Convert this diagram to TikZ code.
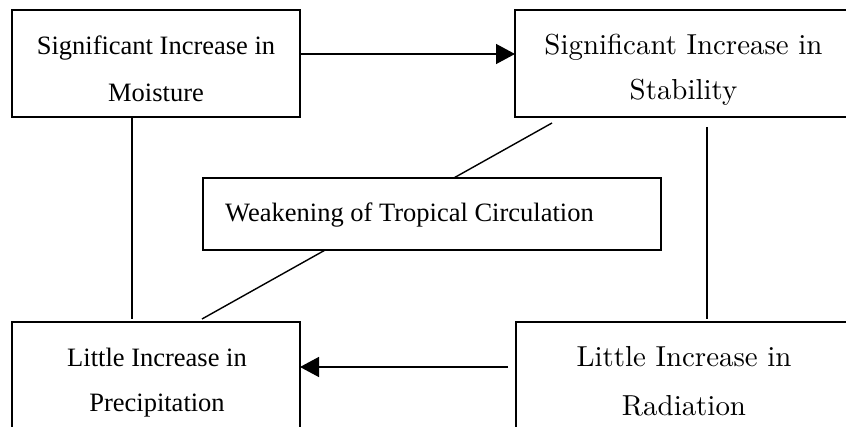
\documentclass[tikz,border=0pt]{standalone}
\usepackage{fontspec}
\newfontfamily\tnr{Liberation Serif}
\newfontfamily\lmten{lmroman10-regular}[Extension=.otf]
\usetikzlibrary{arrows.meta,calc}
\begin{document}
\begin{tikzpicture}[x=1pt,y=-1pt,
  box/.style={draw=black,line width=1.6pt,fill=white,rectangle,inner sep=0pt,outer sep=0pt},
  lt/.style={anchor=base,inner sep=0pt,font=\tnr\fontsize{26.5}{30}\selectfont},
  rt/.style={anchor=base,inner sep=0pt,font=\lmten\fontsize{28.9}{32}\selectfont},
  conn/.style={draw=black,line width=1.4pt},
  arr/.style={conn,-{Triangle[length=19pt,width=20pt]}}]
\useasboundingbox (0,0) rectangle (846,427);
\clip (0,0) rectangle (846,427);
% boxes
\node[box,minimum width=288pt,minimum height=107pt] (moist) at (156,63.5) {};
\node[box,minimum width=337pt,minimum height=107pt] (stab) at (683.5,63.5) {};
\node[box,minimum width=288pt,minimum height=120pt] (prec) at (156,382) {};
\node[box,minimum width=336pt,minimum height=120pt] (rad) at (684,382) {};
% connectors behind the middle box
\draw[conn] ($(stab.south west)+(37,6)$) -- ($(prec.north west)+(190,-3)$);
\draw[conn] ($(moist.south west)+(120,0)$) -- ($(prec.north west)+(120,-3)$);
\draw[conn] ($(stab.south west)+(192,10)$) -- ($(rad.north west)+(191,-3)$);
\draw[arr] ($(moist.north east)+(0,44)$) -- ($(stab.north west)+(0,44)$);
\draw[arr] ($(rad.north west)+(-8,45)$) -- ($(prec.north east)+(0,45)$);
% middle box
\node[box,minimum width=458pt,minimum height=72pt] (weak) at (432,214) {};
% texts
\node[lt] (m1) at (156,55) {Significant Increase in};
\node[lt] (m2) at (156,102) {Moisture};
\node[rt] (s1) at (683.5,55) {Significant Increase in};
\node[rt] (s2) at (683.5,100) {Stability};
\node[lt] (p1) at (157,367) {Little Increase in};
\node[lt] (p2) at (157,412) {Precipitation};
\node[rt] (r1) at (684,367) {Little Increase in};
\node[rt] (r2) at (684,416) {Radiation};
\node[lt,anchor=base west] (w1) at (225,222) {Weakening of Tropical Circulation};
\end{tikzpicture}
\end{document}
